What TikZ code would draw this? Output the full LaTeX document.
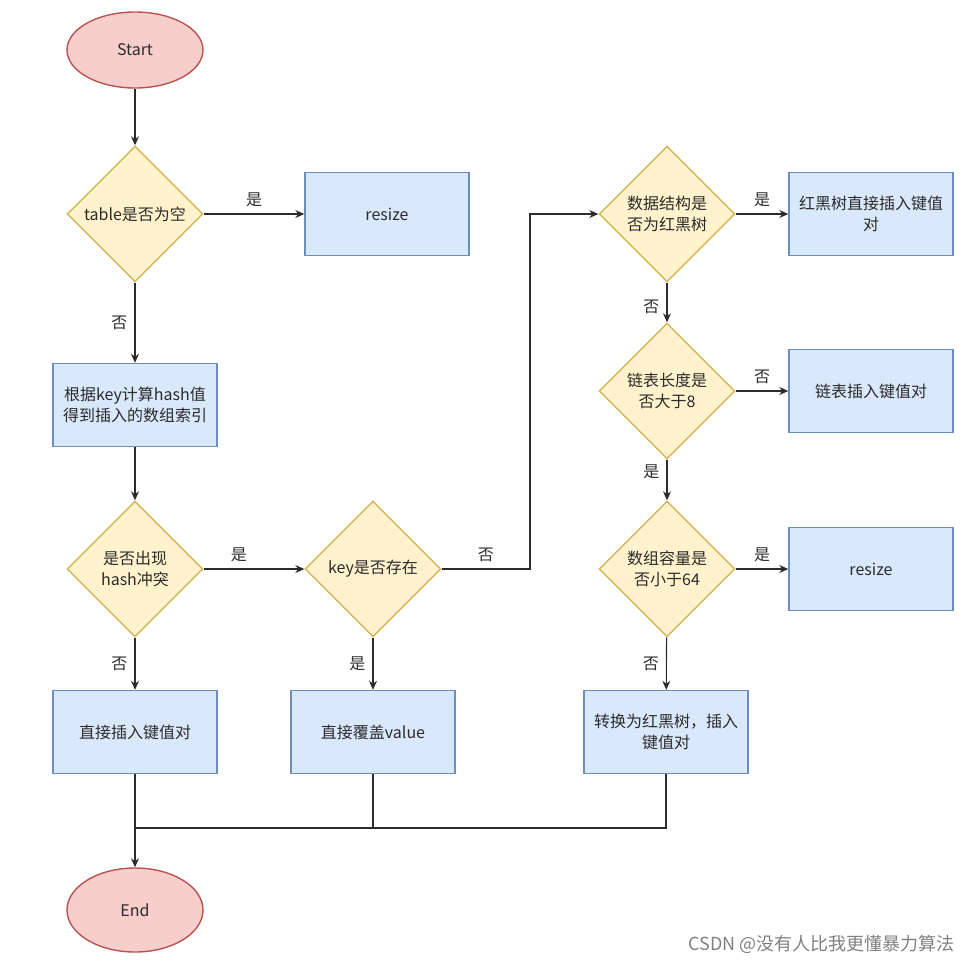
\documentclass[tikz,border=0pt]{standalone}
\usepackage{fontspec}
\setmainfont{Noto Sans CJK SC}
\usetikzlibrary{shapes.geometric,arrows.meta}
\definecolor{ovalfill}{HTML}{F8CECC}
\definecolor{ovalline}{HTML}{B85450}
\definecolor{askfill}{HTML}{FFF2CC}
\definecolor{askline}{HTML}{D6B656}
\definecolor{boxfill}{HTML}{DAE8FC}
\definecolor{boxline}{HTML}{6C8EBF}
\definecolor{ink}{HTML}{2B2B2B}
\tikzset{
  oval/.style={draw=ovalline,fill=ovalfill,ellipse,line width=1.4pt,minimum width=136pt,inner sep=0pt},
  ask/.style={draw=askline,fill=askfill,diamond,aspect=1,line width=1.4pt,minimum width=136pt,minimum height=136pt,inner sep=0pt,align=center},
  job/.style={draw=boxline,fill=boxfill,rectangle,line width=1.4pt,minimum width=164pt,minimum height=83pt,inner sep=2pt,align=center},
  flow/.style={draw=ink,line width=1.1pt,-{Stealth[length=9pt,width=8pt]}},
  wire/.style={draw=ink,line width=1.1pt},
  tag/.style={text=ink,inner sep=7pt}
}
\begin{document}
\begin{tikzpicture}[x=1pt,y=-1pt,font=\fontsize{16}{21}\selectfont,text=ink]
    \useasboundingbox (0,0) rectangle (974,964);
    % left column
    \node[oval,minimum height=76pt] (start) at (135,50) {Start};
    \node[ask] (empty) at (135,214) {table是否为空};
    \node[job] (resizeA) at (387,214) {resize};
    \node[job] (hash) at (135,405) {根据key计算hash值\\得到插入的数组索引};
    \node[ask] (clash) at (135,569) {是否出现\\hash冲突};
    \node[ask] (haskey) at (373,569) {key是否存在};
    \node[job] (insert) at (135,732) {直接插入键值对};
    \node[job] (cover) at (373,732) {直接覆盖value};
    \node[oval,minimum height=84pt] (end) at (135,910) {End};
    % right column
    \node[ask] (istree) at (667,214) {数据结构是\\否为红黑树};
    \node[job] (treeput) at (871,214) {红黑树直接插入键值\\对};
    \node[ask] (longlist) at (667,391) {链表长度是\\否大于8};
    \node[job] (listput) at (871,391) {链表插入键值对};
    \node[ask] (small) at (667,569) {数组容量是\\否小于64};
    \node[job] (resizeB) at (871,569) {resize};
    \node[job] (convert) at (666,732) {转换为红黑树，插入\\键值对};
    \coordinate (bend) at (530,569);
    \coordinate (merge) at (135,828);
    % connectors
    \draw[flow] (start) -- (empty);
    \draw[flow] (empty) -- node[tag,above] {是} (resizeA);
    \draw[flow] (empty) -- node[tag,left] {否} (hash);
    \draw[flow] (hash) -- (clash);
    \draw[flow] (clash) -- node[tag,above,pos=0.35] {是} (haskey);
    \draw[flow] (clash) -- node[tag,left] {否} (insert);
    \draw[flow] (haskey) -- node[tag,left] {是} (cover);
    \draw[flow] (haskey.east) -- node[tag,above] {否} (bend) |- (istree.west);
    \draw[flow] (istree) -- node[tag,above] {是} (treeput);
    \draw[flow] (istree) -- node[tag,left,pos=0.6] {否} (longlist);
    \draw[flow] (longlist) -- node[tag,above] {否} (listput);
    \draw[flow] (longlist) -- node[tag,left,pos=0.3] {是} (small);
    \draw[flow] (small) -- node[tag,above] {是} (resizeB);
    \draw[flow] (small) -- node[tag,left] {否} (convert);
    % merge to end
    \draw[flow] (insert) -- (end);
    \draw[wire] (cover.south) |- (merge);
    \draw[wire] (convert.south) |- (merge);
    \node[text=gray,font=\fontsize{18}{20}\selectfont,anchor=east] (mark) at (958,944) {CSDN @没有人比我更懂暴力算法};
\end{tikzpicture}
\end{document}
